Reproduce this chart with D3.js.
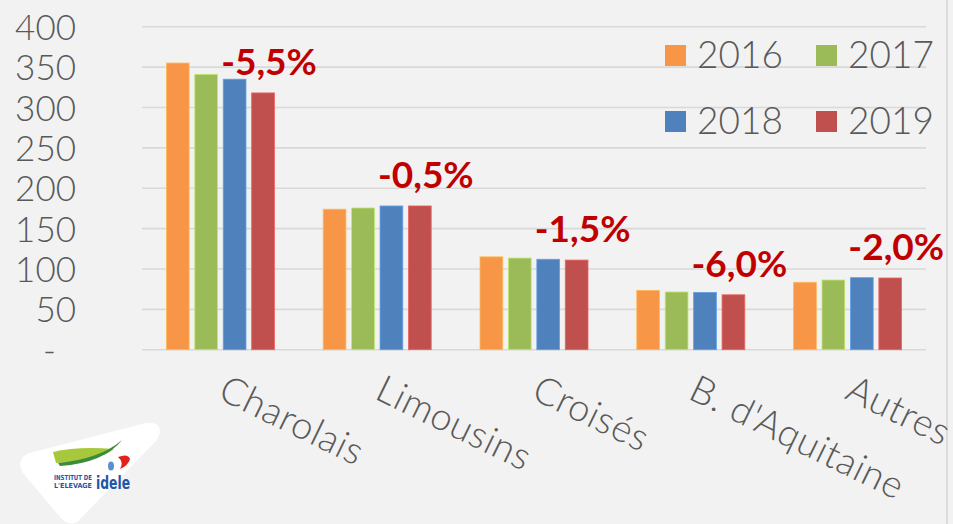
<!DOCTYPE html>
<html>
<head>
<meta charset="utf-8">
<script src="https://cdn.jsdelivr.net/npm/d3@7"></script>
<style>
  body { margin: 0; background: #f2f2f2; }
  svg { display: block; }
</style>
</head>
<body>
<svg id="chart" width="953" height="524"></svg>
<script>
// categories, series and labels
var categories = ["Charolais", "Limousins", "Croisés", "B. d'Aquitaine", "Autres"];
var years = ["2016", "2017", "2018", "2019"];
var v2016 = [355, 174, 115, 73.5, 83.5];
var v2017 = [341, 175.5, 113.5, 71.5, 86.3];
var v2018 = [335, 178, 112, 71, 89.2];
var v2019 = [318, 178, 111, 68, 88.8];
var evolution = ["-5,5%", "-0,5%", "-1,5%", "-6,0%", "-2,0%"];
var yTicks = [0, 50, 100, 150, 200, 250, 300, 350, 400];

var series = [v2016, v2017, v2018, v2019];
var colors = ["#f79646", "#9bbb59", "#4f81bd", "#c0504d"];

var svg = d3.select("#chart"),
    width = +svg.attr("width"),
    height = +svg.attr("height");

var plotLeft = 142, plotRight = 926, plotTop = 26.7, plotBottom = 349.7;

var x0 = d3.scaleBand().domain(categories).range([plotLeft, plotRight]);
var x1 = d3.scaleBand().domain(years).range([24.4, 132.4]).paddingInner(0.2);
var y = d3.scaleLinear().domain([0, 400]).range([plotBottom, plotTop]);

svg.append("rect").attr("width", width).attr("height", height).attr("fill", "#f2f2f2");

// right border
svg.append("line")
    .attr("x1", 947).attr("x2", 947).attr("y1", 0).attr("y2", height)
    .attr("stroke", "#d4d4d4").attr("stroke-width", 1.5);

// gridlines
svg.append("g")
    .selectAll("line")
    .data(yTicks)
    .enter().append("line")
    .attr("x1", plotLeft).attr("x2", plotRight)
    .attr("y1", function (d) { return y(d); })
    .attr("y2", function (d) { return y(d); })
    .attr("stroke", "#d9d9d9")
    .attr("stroke-width", 1.6);

// y axis labels
var yAxis = d3.axisLeft(y)
    .tickValues(yTicks)
    .tickSize(0)
    .tickPadding(0)
    .tickFormat(function (d) { return d === 0 ? "-" : d; });

var yg = svg.append("g")
    .attr("transform", "translate(76,0)")
    .call(yAxis);
yg.select(".domain").remove();
yg.selectAll("text")
    .attr("font-family", "Lato, 'Open Sans', sans-serif")
    .attr("font-weight", 300)
    .attr("font-size", 35)
    .attr("fill", "#595959")
    .attr("dy", "0.36em")
    .attr("dx", function (d) { return d === 0 ? -20 : 0; });

// bars
var groups = svg.append("g")
    .selectAll("g")
    .data(categories)
    .enter().append("g")
    .attr("transform", function (d) { return "translate(" + x0(d) + ",0)"; });

groups.selectAll("rect")
    .data(function (d, i) {
        return years.map(function (yr, j) { return {year: yr, value: series[j][i], color: colors[j]}; });
    })
    .enter().append("rect")
    .attr("x", function (d) { return x1(d.year); })
    .attr("width", x1.bandwidth())
    .attr("y", function (d) { return y(d.value); })
    .attr("height", function (d) { return y(0) - y(d.value); })
    .attr("fill", function (d) { return d.color; })
    .attr("stroke", function (d) { return d3.color(d.color).brighter(0.6); })
    .attr("stroke-width", 0.8);

// evolution labels
groups.append("text")
    .attr("x", x1("2019") + x1.bandwidth() / 2 + 6)
    .attr("y", function (d, i) { return y(v2019[i]) - 18; })
    .attr("text-anchor", "middle")
    .attr("font-family", "Lato, 'Open Sans', sans-serif")
    .attr("font-weight", "bold")
    .attr("font-size", 37)
    .attr("fill", "#c00000")
    .text(function (d, i) { return evolution[i]; });

// category labels, rotated
svg.append("g")
    .selectAll("text")
    .data(categories)
    .enter().append("text")
    .attr("transform", function (d) {
        return "translate(" + (x0(d) + x0.bandwidth() / 2 - 4) + ",398) rotate(26)";
    })
    .attr("font-family", "Lato, 'Open Sans', sans-serif")
    .attr("font-weight", 300)
    .attr("font-size", 38)
    .attr("letter-spacing", 0.6)
    .attr("fill", "#595959")
    .text(function (d) { return d; });

// legend
var legend = svg.append("g")
    .selectAll("g")
    .data(years)
    .enter().append("g")
    .attr("transform", function (d, i) {
        return "translate(" + (665 + (i % 2) * 151) + "," + (45 + Math.floor(i / 2) * 66) + ")";
    });
legend.append("rect")
    .attr("width", 21).attr("height", 21)
    .attr("fill", function (d, i) { return colors[i]; });
legend.append("text")
    .attr("x", 32).attr("y", 23)
    .attr("font-family", "Lato, 'Open Sans', sans-serif")
    .attr("font-weight", 300)
    .attr("font-size", 37)
    .attr("fill", "#595959")
    .text(function (d) { return d; });

// logo
var logo = svg.append("g");
logo.append("path")
    .attr("d", "M30,458 Q22,462 27,470 L64,514 Q72,523 78,514 L152,438 Q160,426 146,428 Z")
    .attr("fill", "#ffffff")
    .attr("stroke", "#ffffff")
    .attr("stroke-width", 10)
    .attr("stroke-linejoin", "round");
logo.append("path")
    .attr("d", "M53,452 Q78,446 114,449 Q100,461 56,463 Z")
    .attr("fill", "#a6c83a");
logo.append("path")
    .attr("d", "M58,463 Q100,459 122,440 Q104,463 60,466 Z")
    .attr("fill", "#3c8b3a");
logo.append("path")
    .attr("d", "M118,457 Q128,453 130,459 Q128,466 120,469 Q124,462 118,457 Z")
    .attr("fill", "#e2231a");
logo.append("ellipse")
    .attr("cx", 111).attr("cy", 466).attr("rx", 3).attr("ry", 4.5)
    .attr("fill", "#5b8fcc");
logo.append("text")
    .attr("x", 54).attr("y", 480)
    .attr("font-family", "'Liberation Sans Narrow', 'DejaVu Sans Condensed', sans-serif")
    .attr("font-weight", "bold").attr("font-size", 7)
    .attr("textLength", 38).attr("lengthAdjust", "spacingAndGlyphs")
    .attr("fill", "#1f56a5")
    .text("INSTITUT DE");
logo.append("text")
    .attr("x", 54).attr("y", 488)
    .attr("font-family", "'Liberation Sans Narrow', 'DejaVu Sans Condensed', sans-serif")
    .attr("font-weight", "bold").attr("font-size", 7)
    .attr("textLength", 38).attr("lengthAdjust", "spacingAndGlyphs")
    .attr("fill", "#1f56a5")
    .text("L'ELEVAGE");
logo.append("text")
    .attr("x", 96).attr("y", 489)
    .attr("font-family", "'DejaVu Sans Condensed', sans-serif")
    .attr("font-weight", "bold").attr("font-size", 17)
    .attr("textLength", 34).attr("lengthAdjust", "spacingAndGlyphs")
    .attr("fill", "#1f56a5")
    .text("idele");
</script>
</body>
</html>
